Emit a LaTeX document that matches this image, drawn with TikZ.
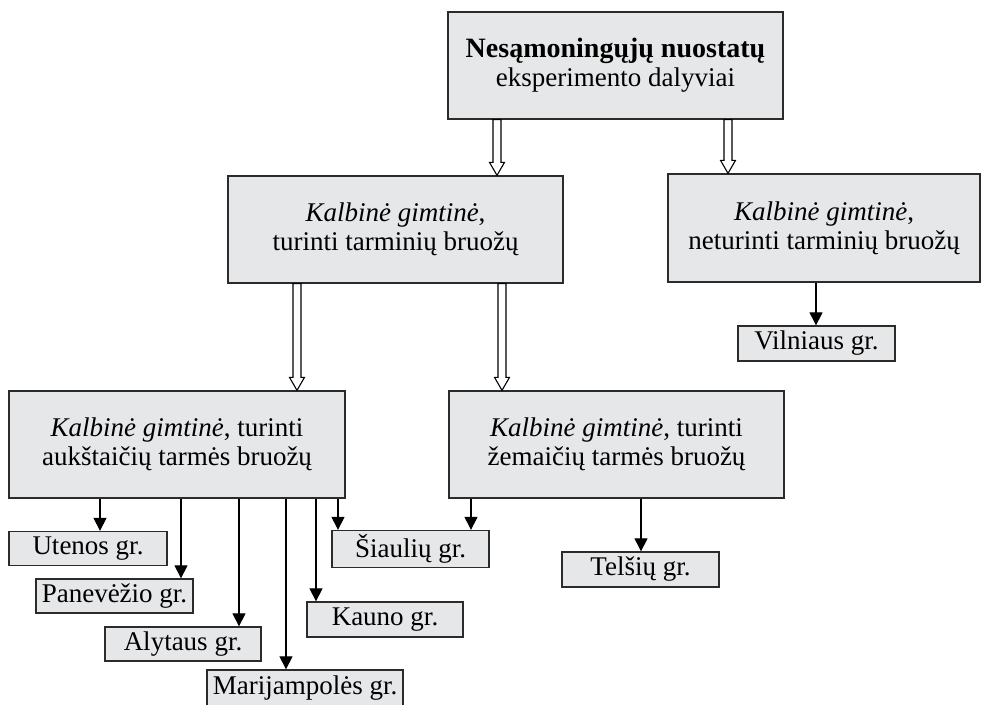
\documentclass[tikz,border=0pt]{standalone}
\usepackage{fontspec}
\setmainfont{Liberation Serif}
\usetikzlibrary{arrows.meta,calc}
\definecolor{boxfill}{HTML}{E6E7E8}
\definecolor{boxline}{HTML}{2B2B2B}
\tikzset{
  bigbox/.style={draw=boxline, line width=1.3pt, fill=boxfill, align=center,
    inner sep=0pt, font=\fontsize{27}{29}\selectfont},
  smallbox/.style={draw=boxline, line width=1.3pt, fill=boxfill, align=center,
    inner sep=0pt, font=\fontsize{27}{29}\selectfont},
  arr/.style={line width=1.1pt, -{Triangle[width=13pt,length=13pt]}},
  hollow/.style={draw=black, line width=1.1pt, fill=white, line join=miter},
}
% hollow (outlined) arrow from point #1 down to point #2 (same x)
\newcommand\hollowarrow[2]{%
  \path[hollow] let \p1=(#1), \p2=(#2) in
    (\x1-4pt,\y1) -- (\x1-4pt,\y2+13pt) -- (\x1-7.5pt,\y2+13pt) -- (\x1,\y2)
    -- (\x1+7.5pt,\y2+13pt) -- (\x1+4pt,\y2+13pt) -- (\x1+4pt,\y1) -- cycle;}
\begin{document}
\begin{tikzpicture}[x=1pt,y=-1pt]
\useasboundingbox (0,0) rectangle (981,704);
\begin{scope}
\clip (0,0) rectangle (981,704);
% big boxes
\node[bigbox, minimum width=335pt, minimum height=107pt] (top) at (615.5,65.5)
  {{\fontsize{28}{29}\selectfont\textbf{Nesąmoningųjų nuostatų}}\\eksperimento dalyviai};
\node[bigbox, minimum width=335pt, minimum height=107pt] (midL) at (395.5,229.5)
  {\textit{Kalbinė gimtinė},\\turinti tarminių bruožų};
\node[bigbox, minimum width=312pt, minimum height=108pt] (midR) at (824,228)
  {\textit{Kalbinė gimtinė},\\neturinti tarminių bruožų};
\node[bigbox, minimum width=336pt, minimum height=107pt] (botL) at (177,444.5)
  {\textit{Kalbinė gimtinė}, turinti\\aukštaičių tarmės bruožų};
\node[bigbox, minimum width=335pt, minimum height=107pt] (botR) at (616.5,444.5)
  {\textit{Kalbinė gimtinė}, turinti\\žemaičių tarmės bruožų};
% small boxes
\node[smallbox, minimum width=157pt, minimum height=35pt] (vilnius) at (816.5,343.5) {Vilniaus gr.};
\node[smallbox, minimum width=158pt, minimum height=34pt] (utenos) at (88,548.5) {Utenos gr.};
\node[smallbox, minimum width=157pt, minimum height=34pt] (panev) at (114.5,596) {Panevėžio gr.};
\node[smallbox, minimum width=156pt, minimum height=34pt] (alytaus) at (183,644) {Alytaus gr.};
\node[smallbox, minimum width=196pt, minimum height=36pt] (marij) at (305,688) {Marijampolės gr.};
\node[smallbox, minimum width=156pt, minimum height=35pt] (kauno) at (385,619.5) {Kauno gr.};
\node[smallbox, minimum width=157pt, minimum height=37pt] (siauliu) at (410.5,549) {Šiaulių gr.};
\node[smallbox, minimum width=157pt, minimum height=35pt] (telsiu) at (640.5,569.5) {Telšių gr.};
% hollow arrows
\hollowarrow{top.south -| 497,0}{midL.north -| 497,0}
\hollowarrow{top.south -| 728,0}{midR.north -| 728,0}
\hollowarrow{midL.south -| 297,0}{botL.north -| 297,0}
\hollowarrow{midL.south -| 502,0}{botR.north -| 502,0}
% solid arrows
\draw[arr] (midR.south -| 816,0) -- (vilnius.north -| 816,0);
\draw[arr] (botL.south -| 100,0) -- (utenos.north -| 100,0);
\draw[arr] (botL.south -| 181,0) -- (panev.north -| 181,0);
\draw[arr] (botL.south -| 239,0) -- (alytaus.north -| 239,0);
\draw[arr] (botL.south -| 286,0) -- (marij.north -| 286,0);
\draw[arr] (botL.south -| 316,0) -- (kauno.north -| 316,0);
\draw[arr] (botL.south -| 338,0) -- (siauliu.north -| 338,0);
\draw[arr] (botR.south -| 471,0) -- (siauliu.north -| 471,0);
\draw[arr] (botR.south -| 641,0) -- (telsiu.north -| 641,0);
\end{scope}
\end{tikzpicture}
\end{document}
